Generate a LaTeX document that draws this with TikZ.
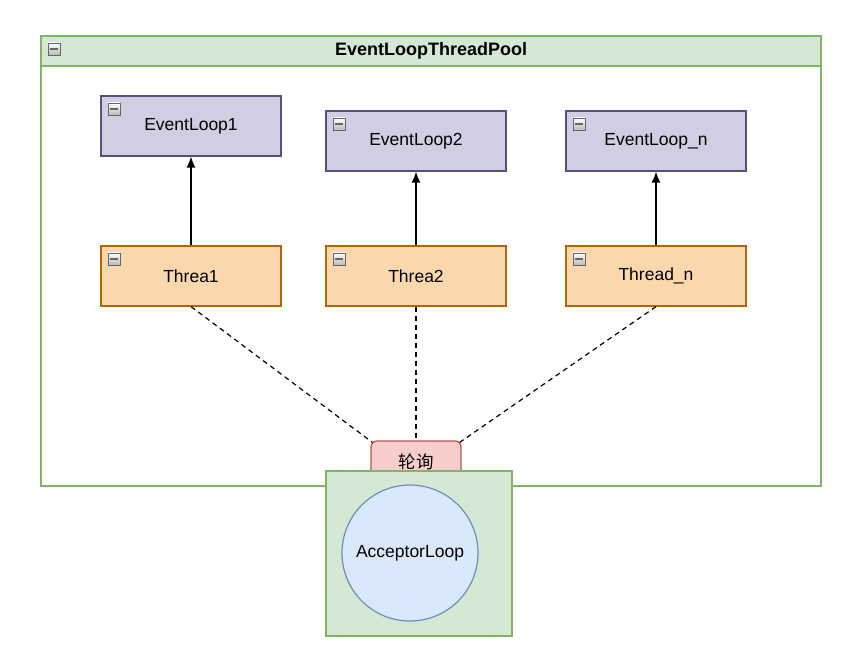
\documentclass[tikz,border=0pt]{standalone}
\usepackage{fontspec}
\setmainfont{Liberation Sans}
\newfontfamily\cjk{Noto Sans CJK SC}
\usepackage{tikz}
\usetikzlibrary{arrows.meta, positioning}
\definecolor{PoolFill}{HTML}{D5E8D4}
\definecolor{PoolLine}{HTML}{82B366}
\definecolor{LoopFill}{HTML}{D0CEE2}
\definecolor{LoopLine}{HTML}{56517E}
\definecolor{ThrFill}{HTML}{FAD7AC}
\definecolor{ThrLine}{HTML}{B46504}
\definecolor{PollFill}{HTML}{F8CECC}
\definecolor{PollLine}{HTML}{B85450}
\definecolor{AccFill}{HTML}{DAE8FC}
\definecolor{AccLine}{HTML}{6C8EBF}

\begin{document}
\begin{tikzpicture}[
  x=1pt, y=-1pt,
  font=\fontsize{17.5}{20}\selectfont,
  pool/.style={draw=PoolLine, line width=1.2pt, fill=white, minimum width=780pt, minimum height=450pt, inner sep=0pt},
  poolhead/.style={draw=PoolLine, line width=1.2pt, fill=PoolFill, minimum width=780pt, minimum height=30pt, inner sep=0pt, font=\fontsize{18}{20}\selectfont\bfseries},
  loop/.style={draw=LoopLine, line width=1.2pt, fill=LoopFill, minimum width=180pt, minimum height=60pt, inner sep=0pt},
  thr/.style={draw=ThrLine, line width=1.2pt, fill=ThrFill, minimum width=180pt, minimum height=60pt, inner sep=0pt},
  poll/.style={rounded corners=6pt, draw=PollLine, line width=1.2pt, fill=PollFill, minimum width=90pt, minimum height=42pt, inner sep=0pt, font=\fontsize{17.5}{20}\selectfont\cjk},
  accbox/.style={draw=PoolLine, line width=1.2pt, fill=PoolFill, minimum width=186pt, minimum height=165pt, inner sep=0pt},
  acc/.style={circle, draw=AccLine, line width=1.2pt, fill=AccFill, minimum size=136pt, inner sep=0pt},
  icon/.style={draw=gray!80!black, line width=0.8pt, top color=white, bottom color=gray!55, minimum size=12pt, inner sep=0pt,
    path picture={\draw[line width=1.6pt] ([xshift=-4pt]path picture bounding box.center) -- ([xshift=4pt]path picture bounding box.center);}},
  arrow/.style={-{Latex[length=11pt, width=9pt]}, line width=1.3pt},
  polling/.style={dashed, line width=1.2pt, dash pattern=on 5pt off 4pt}
]
\useasboundingbox (0,0) rectangle (864,656);

\node[pool] (pool) at (431,261) {};
\node[poolhead] (head) at (431,51) {EventLoopThreadPool};
\node[icon] at ([xshift=13.5pt, yshift=-13.5pt]head.north west) {};

\node[loop] (e1) at (191,126) {EventLoop1};
\node[loop] (e2) at (416,141) {EventLoop2};
\node[loop] (en) at (656,141) {EventLoop\_n};
\node[thr] (t1) at (191,276) {Threa1};
\node[thr] (t2) at (416,276) {Threa2};
\node[thr] (tn) at (656,276) {Thread\_n};

\foreach \n in {e1, e2, en, t1, t2, tn}
  \node[icon] at ([xshift=13.5pt, yshift=-13.5pt]\n.north west) {};

\draw[arrow] (t1) -- (e1);
\draw[arrow] (t2) -- (e2);
\draw[arrow] (tn) -- (en);

\node[poll] (poll) at (416,462) {轮询};
\draw[polling] (t1.south) -- ([xshift=2pt, yshift=-2pt]poll.north west);
\draw[polling] (t2.south) -- (poll.north);
\draw[polling] (tn.south) -- ([xshift=-2pt, yshift=-2pt]poll.north east);

\node[accbox] (accbox) at (419,553.5) {};
\node[acc] (acc) at (410,553) {AcceptorLoop};
\end{tikzpicture}
\end{document}
